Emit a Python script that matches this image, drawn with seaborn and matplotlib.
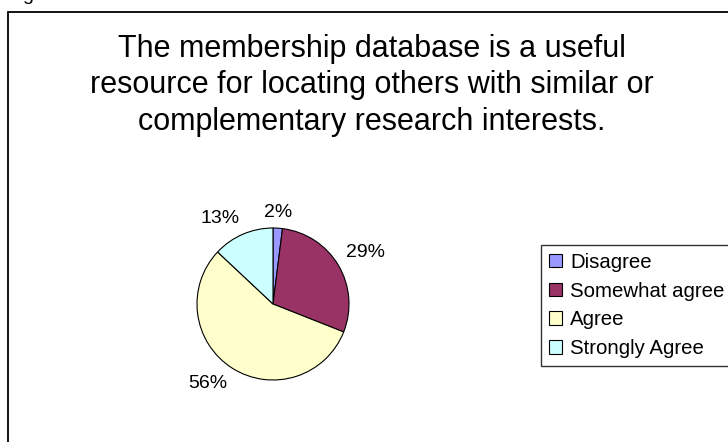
import numpy as np
import matplotlib
matplotlib.use("Agg")
import matplotlib.pyplot as plt
import seaborn as sns

# Survey answers (percent of respondents)
categories = ["Disagree", "Somewhat agree", "Agree", "Strongly Agree"]
shares = [2, 29, 56, 13]
slice_colors = ["#9999FF", "#993366", "#FFFFCC", "#CCFFFF"]
title = ("The membership database is a useful\n"
         "resource for locating others with similar or\n"
         "complementary research interests.")

sns.set_theme(style="white")
plt.rcParams["font.family"] = ["Liberation Sans", "DejaVu Sans"]
plt.rcParams["text.color"] = "black"

W, H = 728, 442
fig = plt.figure(figsize=(W / 100, H / 100), dpi=100)
fig.patch.set_facecolor("white")

# outer chart frame (runs off the right / bottom of the image)
fig.add_artist(plt.Rectangle((8 / W, -0.1), 1.2, 1 - 12 / H + 0.1,
                             transform=fig.transFigure, fill=False,
                             edgecolor="black", linewidth=1.3))
# stray fragment of the caption above the frame
fig.text(22 / W, 1.0, "g", fontsize=14, ha="left", va="baseline")

fig.text(372 / W, 1 - 34 / H, title, ha="center", va="top",
         fontsize=22, linespacing=1.28)

cx, cy, r = 273, 304, 76
ax = fig.add_axes([(cx - r) / W, (H - cy - r) / H, 2 * r / W, 2 * r / H])
wedges, _ = ax.pie(shares, colors=slice_colors, startangle=90, counterclock=False,
                   wedgeprops=dict(edgecolor="black", linewidth=0.8))
ax.set_xlim(-1, 1)
ax.set_ylim(-1, 1)
ax.set_aspect("equal")
ax.axis("off")

# percentage labels placed just outside each slice
for w, v in zip(wedges, shares):
    th = np.deg2rad((w.theta1 + w.theta2) / 2)
    c, s = np.cos(th), np.sin(th)
    ha = "left" if c > 0.3 else ("right" if c < -0.3 else "center")
    va = "bottom" if s > 0.3 else ("top" if s < -0.3 else "center")
    ax.text(1.12 * c, 1.1 * s, f"{v}%", ha=ha, va=va, fontsize=14,
            color="black", clip_on=False)

leg = fig.legend(wedges, categories, loc="upper left",
                 bbox_to_anchor=(541 / W, 1 - 245 / H), fontsize=14.7,
                 frameon=True, fancybox=False, edgecolor="black",
                 handlelength=0.65, handleheight=0.65, handletextpad=0.4,
                 borderpad=0.38, labelspacing=0.48, borderaxespad=0)
leg.get_frame().set_linewidth(1.0)
for t in leg.get_texts():
    t.set_color("black")

fig.savefig("out.png", dpi=100, facecolor="white")
